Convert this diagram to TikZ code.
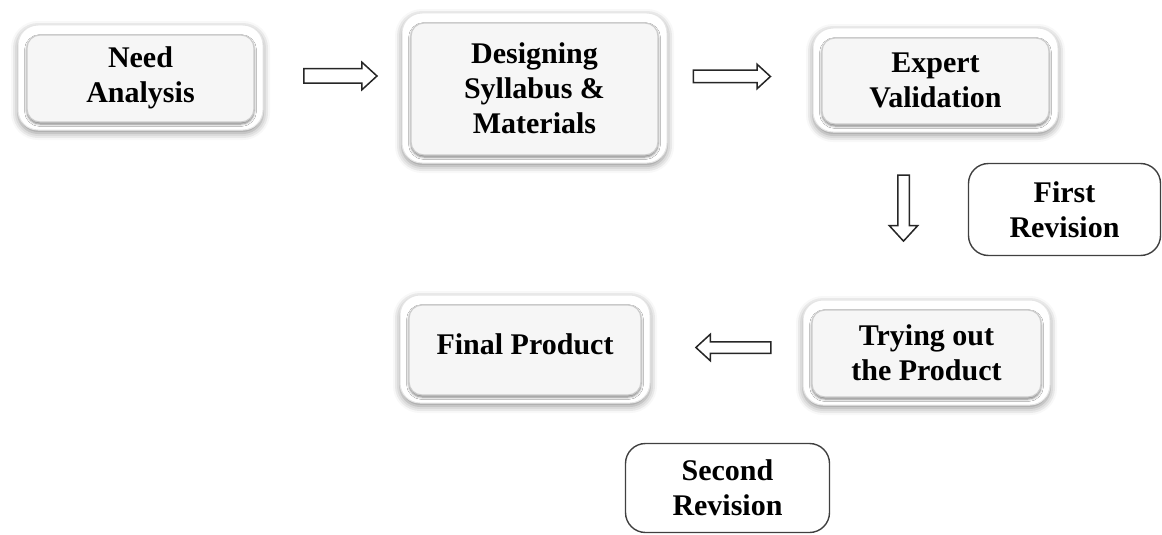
\documentclass[tikz,border=0pt]{standalone}
\usepackage{fontspec}
\setmainfont{Liberation Serif}
\usetikzlibrary{shapes.arrows,shadows.blur}

\tikzset{
  lbl/.style={font=\bfseries\fontsize{30}{35}\selectfont, align=center, text=black},
  frame/.style={rounded corners=20pt, fill=white, draw=gray!20, line width=1pt,
    blur shadow={shadow xshift=0pt, shadow yshift=-3pt, shadow blur radius=7pt, shadow opacity=45}},
  face/.style={rounded corners=13pt, fill=gray!7, draw=gray!40, line width=1.2pt,
    blur shadow={shadow xshift=0pt, shadow yshift=-2pt, shadow blur radius=2.5pt, shadow opacity=55}},
  plainbox/.style={rounded corners=20pt, fill=white, draw=black!75, line width=1.4pt},
  blockarrow/.style={single arrow, draw=black!85, fill=white, line width=1.5pt,
    inner xsep=0pt, single arrow tip angle=85}
}

% raised box: white frame with a shaded face on top and the label
\newcommand{\raisedbox}[5]{%
  \node[frame, minimum width=#3pt, minimum height=#4pt] (#1) at #2 {};
  \node[face, minimum width=#3pt-18pt, minimum height=#4pt-18pt] (#1-face) at ([yshift=-1pt]#1.center) {};
  \node[lbl] (#1-text) at (#1.center) {#5};
}

\begin{document}
\begin{tikzpicture}[x=1pt, y=-1pt]
\useasboundingbox (0,0) rectangle (1162,535);

\raisedbox{need}{(140.5,77.5)}{245}{105}{Need\\Analysis}
\raisedbox{design}{(534.5,88)}{265}{150}{Designing\\Syllabus \&\\Materials}
\raisedbox{expert}{(935.5,80)}{245}{104}{Expert\\Validation}
\raisedbox{trying}{(926.5,352.5)}{247}{105}{Trying out\\the Product}
\raisedbox{final}{(525,349)}{250}{108}{}
\node[lbl] (final-label) at ([yshift=5pt]final.center) {Final Product};

\node[plainbox, minimum width=192pt, minimum height=92pt] (first) at (1064.5,209.5) {};
\node[lbl] (first-text) at (first.center) {First\\Revision};
\node[plainbox, minimum width=204pt, minimum height=89pt] (second) at (727.5,488) {};
\node[lbl] (second-text) at (second.center) {Second\\Revision};

% hollow block arrows between the stages (shaft = 2 x inner ysep)
\node[blockarrow, minimum height=73pt, inner ysep=6.5pt, single arrow head extend=6.5pt] (a1) at (336.5,76) {};
\node[blockarrow, minimum height=77pt, inner ysep=5.5pt, single arrow head extend=6pt] (a2) at (728.5,76.5) {};
\node[blockarrow, rotate=-90, minimum height=66pt, inner ysep=5pt, single arrow head extend=8.5pt] (a3) at (903.5,205) {};
\node[blockarrow, rotate=180, minimum height=75pt, inner ysep=5pt, single arrow head extend=7.5pt] (a4) at (736.5,347.5) {};
\end{tikzpicture}
\end{document}
